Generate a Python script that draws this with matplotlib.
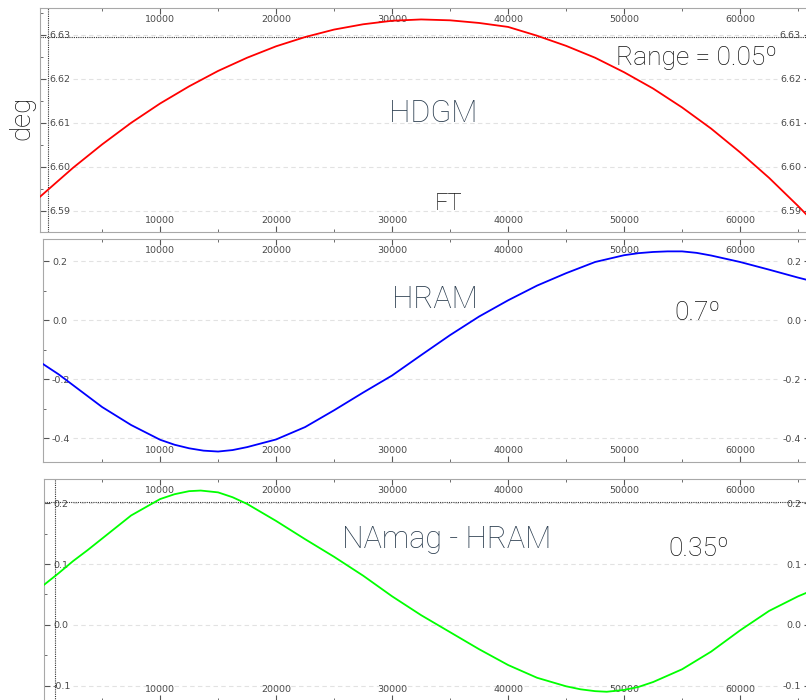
import matplotlib.pyplot as plt
from matplotlib.ticker import FixedLocator, MultipleLocator, FormatStrFormatter

plt.rcParams['axes.unicode_minus'] = False

# altitude samples (ft)
hdgm_x = [-400, 2500, 5000, 7500, 10000, 12500, 15000, 17500, 20000, 22500, 25000,
          27500, 30000, 32500, 35000, 37500, 40000, 42500, 45000, 47500, 50000,
          52500, 55000, 57500, 60000, 62500, 65000, 66000]
hdgm_deg = [6.5931, 6.5998, 6.6051, 6.6100, 6.6144, 6.6183, 6.6218, 6.6248, 6.6274,
            6.6295, 6.6312, 6.6324, 6.6332, 6.6335, 6.6333, 6.6327, 6.6318, 6.6298,
            6.6275, 6.6248, 6.6215, 6.6178, 6.6135, 6.6087, 6.6033, 6.5975, 6.5911, 6.5884]

hram_x = [-100, 1250, 2500, 5000, 7500, 10000, 11250, 12500, 13750, 15000, 16250,
          17500, 20000, 22500, 25000, 27500, 30000, 32500, 35000, 37500, 40000, 42500,
          45000, 47500, 50000, 51250, 52500, 53750, 55000, 56250, 57500, 60000, 62500,
          65000, 66000]
hram_deg = [-0.148, -0.183, -0.220, -0.294, -0.355, -0.405, -0.422, -0.434, -0.442,
            -0.445, -0.440, -0.430, -0.404, -0.362, -0.305, -0.245, -0.187, -0.118,
            -0.050, 0.013, 0.068, 0.118, 0.160, 0.198, 0.221, 0.228, 0.232, 0.234,
            0.234, 0.229, 0.220, 0.198, 0.172, 0.145, 0.135]

diff_x = [0, 1250, 2500, 3750, 5000, 7500, 10000, 11250, 12500, 13500, 15000, 16250,
          17500, 20000, 22500, 25000, 27500, 30000, 32500, 35000, 37500, 40000, 42500,
          45000, 46250, 47500, 48500, 50000, 51250, 52500, 55000, 57500, 60000, 62500,
          65000, 66000]
diff_deg = [0.066, 0.085, 0.105, 0.123, 0.142, 0.180, 0.207, 0.215, 0.220, 0.221,
            0.218, 0.210, 0.199, 0.171, 0.141, 0.112, 0.081, 0.047, 0.016, -0.012,
            -0.040, -0.066, -0.087, -0.101, -0.106, -0.109, -0.110, -0.107, -0.102,
            -0.094, -0.073, -0.044, -0.009, 0.023, 0.047, 0.055]

xticks_major = [10000, 20000, 30000, 40000, 50000, 60000]
xticks_minor = [5000, 15000, 25000, 35000, 45000, 55000, 65000]

W, H = 806, 700
fig = plt.figure(figsize=(W / 100, H / 100), dpi=100)

txt_font = ['Roboto', 'DejaVu Sans']
slate = '#2c3e50'
ink = '#111111'
spine_col = '#a8a8a8'
lbl_col = '#4a4a4a'


def make_panel(left, top, bottom, xs, ys, color, ylim, yticks, ystep, fmt, right=810):
    ax = fig.add_axes([left / W, 1 - bottom / H, (right - left) / W, (bottom - top) / H])
    ax.plot(xs, ys, color=color, lw=1.3, zorder=3)
    ax.set_xlim((left - 44.1) / 0.0116, (right - 44.1) / 0.0116)
    ax.set_ylim(*ylim)
    ax.set_yticks(yticks)
    ax.yaxis.set_minor_locator(MultipleLocator(ystep / 2))
    ax.yaxis.set_major_formatter(FormatStrFormatter(fmt))
    ax.xaxis.set_major_locator(FixedLocator(xticks_major))
    ax.xaxis.set_minor_locator(FixedLocator(xticks_minor))
    ax.hlines(yticks, 2500, 63200, colors='#e2e2e2', linestyles=(0, (4, 3)), lw=0.8, zorder=1)
    for s in ax.spines.values():
        s.set_color(spine_col)
    ax.tick_params(axis='x', which='both', direction='in', top=True, bottom=True,
                   labeltop=True, labelbottom=True, pad=-11.3, labelsize=6.8,
                   labelcolor=lbl_col, color='#555555')
    ax.tick_params(axis='x', which='major', length=4)
    ax.tick_params(axis='x', which='minor', length=2)
    ax.tick_params(axis='y', which='both', direction='in', left=True, right=True,
                   labelleft=True, labelright=True, labelsize=6.8,
                   labelcolor=lbl_col, color='#555555')
    ax.tick_params(axis='y', which='major', length=4, pad=-6.5)
    ax.tick_params(axis='y', which='minor', length=2)
    for t in ax.yaxis.get_major_ticks():
        t.label1.set_horizontalalignment('left')
        t.label2.set_horizontalalignment('right')
    return ax


ax1 = make_panel(40, 8, 232, hdgm_x, hdgm_deg, '#ff0000', (6.5852, 6.6361),
                 [6.59, 6.60, 6.61, 6.62, 6.63], 0.01, '%.2f')
ax1.axhline(6.6295, color='#333333', lw=0.8, ls=(0, (1, 1)), zorder=2)
ax1.axvline(340, color='#333333', lw=0.8, ls=(0, (1, 1)), zorder=2)

ax2 = make_panel(43, 239, 462, hram_x, hram_deg, '#0000ff', (-0.4805, 0.276),
                 [-0.4, -0.2, 0.0, 0.2], 0.2, '%.1f')

ax3 = make_panel(44, 479, 701, diff_x, diff_deg, '#00ff00', (-0.1252, 0.24),
                 [-0.1, 0.0, 0.1, 0.2], 0.1, '%.1f')
ax3.axhline(0.2017, color='#333333', lw=0.8, ls=(0, (1, 1)), zorder=2)
ax3.axvline(950, color='#333333', lw=0.8, ls=(0, (1, 1)), zorder=2)


def ftext(x, y, s, size, color, rot=0):
    fig.text(x / W, 1 - y / H, s, fontsize=size, color=color, family=txt_font,
             fontweight='light', ha='center', va='center', rotation=rot)


ftext(22, 118, 'deg', 20, ink, rot=90)
ftext(433, 113, 'HDGM', 22, slate)
ftext(697, 58, 'Range = 0.05º', 19, ink)
ftext(449, 204, 'FT', 17, ink)
ftext(435, 300, 'HRAM', 22, slate)
ftext(697, 313, '0.7º', 19, ink)
ftext(447, 540, 'NAmag - HRAM', 22, slate)
ftext(699, 549, '0.35º', 19, ink)

fig.savefig('out.png', dpi=100)
